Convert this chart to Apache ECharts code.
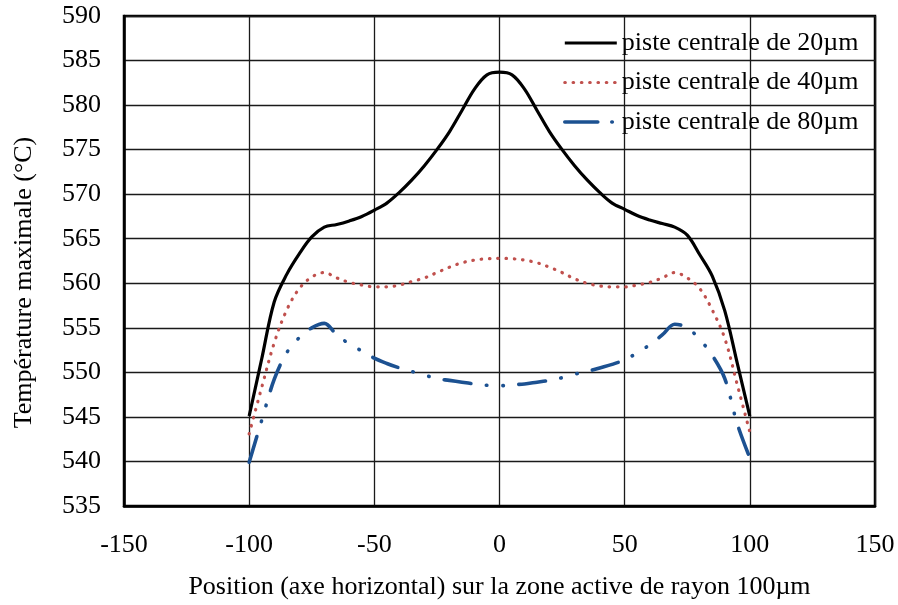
<!DOCTYPE html>
<html>
<head>
<meta charset="utf-8">
<script src="https://cdn.jsdelivr.net/npm/echarts@6/dist/echarts.min.js"></script>
<style>html,body{margin:0;padding:0;background:#fff}#c{width:898px;height:605px}</style>
</head>
<body>
<div id="c"></div>
<script>
const xPositions = [-100,-95,-90,-85,-80,-75,-70,-65,-60,-55,-50,-45,-40,-35,-30,-25,-20,-15,-10,-5,0,5,10,15,20,25,30,35,40,45,50,55,60,65,70,75,80,85,90,95,100];
const piste20 = [545.1,551.5,557.9,561,563.3,565.2,566.3,566.6,567,567.5,568.2,569,570.2,571.6,573.2,575,577,579.4,581.8,583.4,583.7,583.4,581.8,579.4,577,575,573.2,571.6,570.2,569,568.3,567.6,567.1,566.7,566.3,565.4,563.2,560.8,556.9,551,545.1];
const piste40 = [543.1,548.3,553.3,557,559.4,560.7,561.2,560.6,560.1,559.8,559.6,559.6,559.8,560.2,560.6,561.2,561.8,562.3,562.6,562.75,562.8,562.75,562.6,562.3,561.8,561.2,560.5,560,559.7,559.6,559.6,559.8,560.1,560.6,561.2,560.6,559.4,557,553.8,548.6,543.3];
const piste80 = [539.9,544.6,549.2,552.2,553.9,555,555.5,554.2,553.2,552.4,551.6,551,550.5,550.1,549.7,549.3,549.1,548.9,548.7,548.55,548.5,548.6,548.7,548.9,549.1,549.4,549.8,550.1,550.5,550.9,551.4,552.2,553.1,554.2,555.4,555,553.7,551.9,549.3,544.2,540.4];
const xTicks = [-150,-100,-50,0,50,100,150];
const yTicks = [535,540,545,550,555,560,565,570,575,580,585,590];
const seriesNames = ['piste centrale de 20µm','piste centrale de 40µm','piste centrale de 80µm'];

const FONT = '"Liberation Serif","Times New Roman",serif';
const pair = arr => arr.map((v,i)=>[xPositions[i], v]);

const chart = echarts.init(document.getElementById('c'), null, {renderer:'canvas'});
chart.setOption({
  animation:false,
  backgroundColor:'#fff',
  grid:{left:124,right:23,top:16,bottom:98,show:true,borderColor:'#000',borderWidth:2.5,containLabel:false},
  legend:{
    orient:'vertical', left:558, top:25,
    itemWidth:52, itemHeight:14, itemGap:13.5,
    itemStyle:{opacity:0},
    lineStyle:{width:3.2},
    textStyle:{fontFamily:FONT,fontSize:26,color:'#000',lineHeight:26},
    data:[
      {name:seriesNames[0]},
      {name:seriesNames[1]},
      {name:seriesNames[2],lineStyle:{type:[33,14,0.5,30],cap:'round',width:3.6}}
    ]
  },
  xAxis:{
    type:'value', min:xTicks[0], max:xTicks[xTicks.length-1], interval:50,
    name:'Position (axe horizontal) sur la zone active de rayon 100µm',
    nameLocation:'middle', nameGap:68,
    nameTextStyle:{fontFamily:FONT,fontSize:26,color:'#000'},
    axisLine:{show:true,onZero:false,lineStyle:{color:'#000',width:2.5}},
    axisTick:{show:false},
    axisLabel:{fontFamily:FONT,fontSize:26,color:'#000',margin:26},
    splitLine:{show:true,lineStyle:{color:'#1a1a1a',width:1.3}}
  },
  yAxis:{
    type:'value', min:yTicks[0], max:yTicks[yTicks.length-1], interval:5,
    name:'Température maximale (°C)',
    nameLocation:'middle', nameGap:87, nameRotate:90,
    nameTextStyle:{fontFamily:FONT,fontSize:26,color:'#000',padding:[0,43,0,0]},
    axisLine:{show:true,onZero:false,lineStyle:{color:'#000',width:2.5}},
    axisTick:{show:false},
    axisLabel:{fontFamily:FONT,fontSize:26,color:'#000',margin:23},
    splitLine:{show:true,lineStyle:{color:'#1a1a1a',width:1.3}}
  },
  series:[
    {name:seriesNames[0],type:'line',data:pair(piste20),smooth:0.35,symbol:'none',
     lineStyle:{color:'#000',width:3.2},itemStyle:{color:'#000'}},
    {name:seriesNames[1],type:'line',data:pair(piste40),smooth:0.35,symbol:'none',
     lineStyle:{color:'#C0504D',width:3.2,type:[0.5,7.8],cap:'round'},itemStyle:{color:'#C0504D'}},
    {name:seriesNames[2],type:'line',data:pair(piste80),smooth:0.35,symbol:'none',
     lineStyle:{color:'#1C5191',width:3.6,type:[27,15.5,0.5,16,0.5,15.5],cap:'round'},itemStyle:{color:'#1C5191'}}
  ]
});
</script>
</body>
</html>
